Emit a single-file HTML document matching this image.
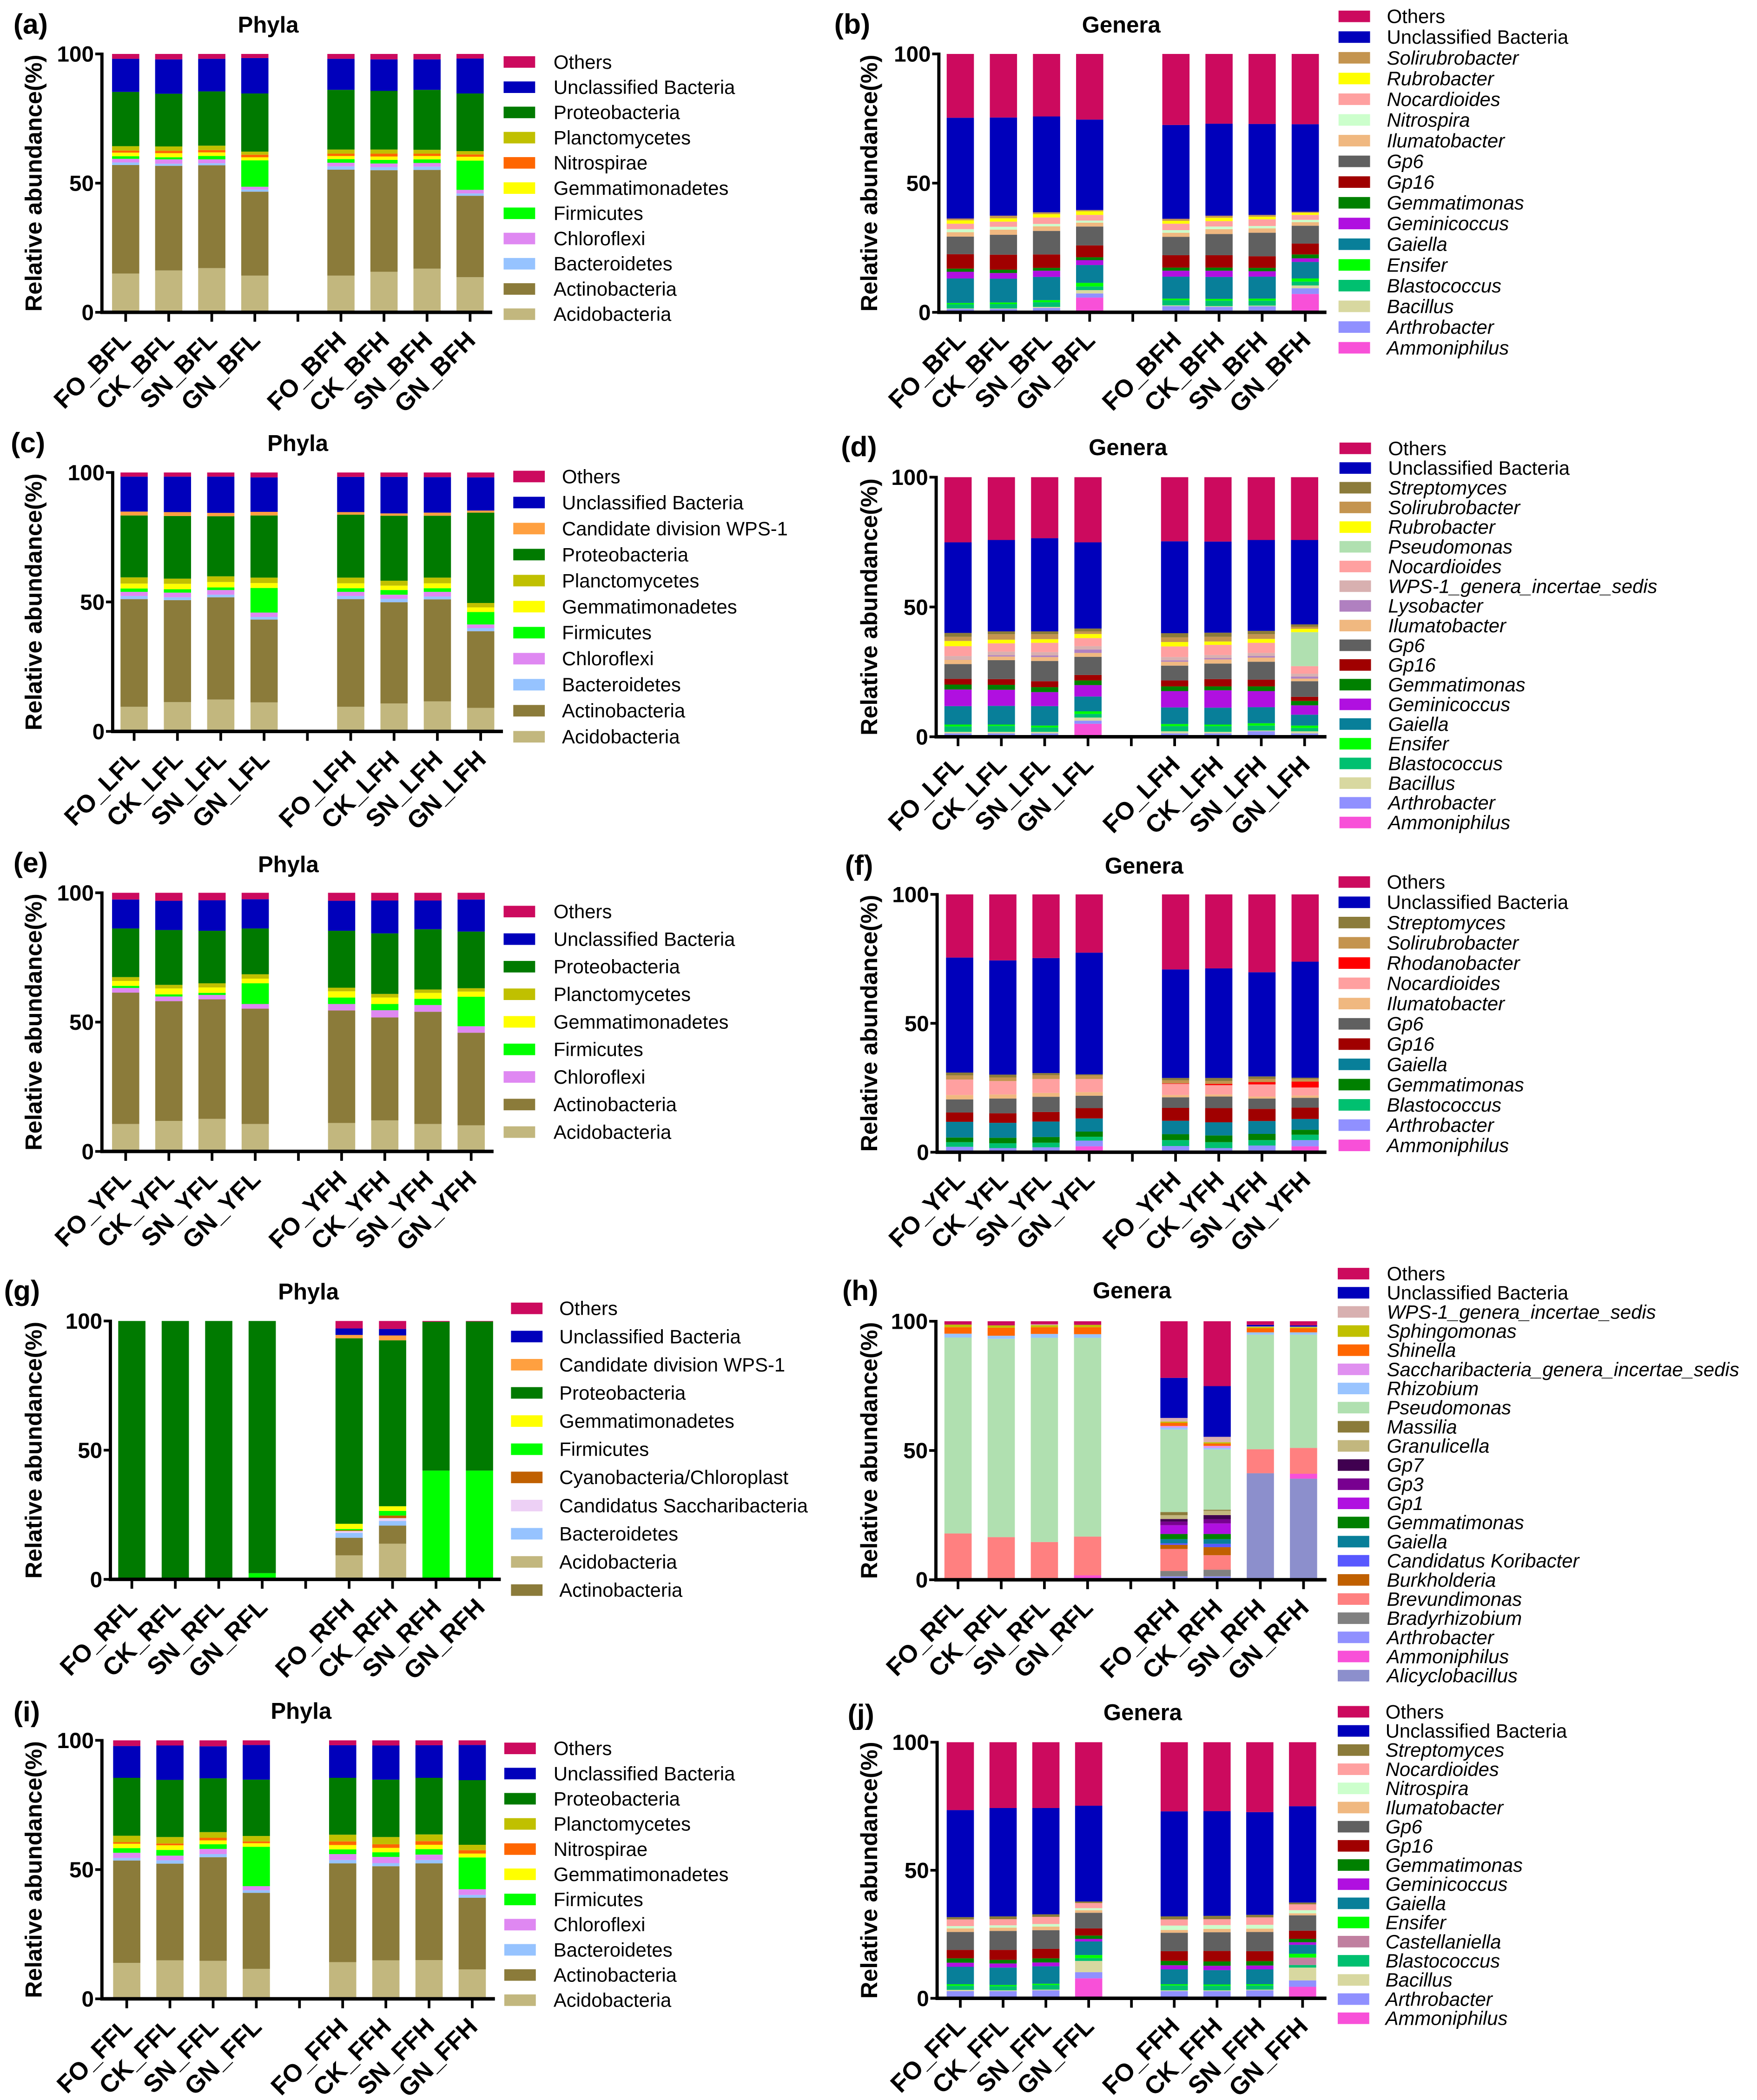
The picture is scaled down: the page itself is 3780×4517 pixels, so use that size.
<!DOCTYPE html>
<html><head><meta charset="utf-8"><style>
html,body{margin:0;padding:0;background:#fff}
svg{display:block}
text{font-family:"Liberation Sans",Arial,sans-serif}
</style></head><body>
<svg id="fig" xmlns="http://www.w3.org/2000/svg" width="3780" height="4517" viewBox="0 0 1310 1565"></svg>
<script>
const colors={"Others":"#cc0a5e","Unclassified Bacteria":"#0000bb","Proteobacteria":"#007a00","Planctomycetes":"#c0c000","Nitrospirae":"#ff6600","Gemmatimonadetes":"#ffff00","Firmicutes":"#00ff00","Chloroflexi":"#df88f2","Bacteroidetes":"#96c3ff","Actinobacteria":"#8b7b3a","Acidobacteria":"#c2b77e","Candidate division WPS-1":"#ffa040","Cyanobacteria/Chloroplast":"#c06000","Candidatus Saccharibacteria":"#edd0f5",
"Streptomyces":"#8b7b3a","Solirubrobacter":"#c4944f","Rubrobacter":"#ffff00","Pseudomonas":"#b0e0b0","Nocardioides":"#ffa0a0","WPS-1_genera_incertae_sedis":"#d8b0b0","Lysobacter":"#b080c0","Ilumatobacter":"#f0b880","Gp6":"#606060","Gp16":"#a00000","Gemmatimonas":"#008000","Geminicoccus":"#b010e0","Gaiella":"#087f99","Ensifer":"#00ff00","Blastococcus":"#00c070","Bacillus":"#d8d8a0","Arthrobacter":"#9090ff","Ammoniphilus":"#f850d8","Nitrospira":"#ccffcc","Rhodanobacter":"#ff0000","Castellaniella":"#c080a0","Sphingomonas":"#c0c000","Shinella":"#ff6600","Saccharibacteria_genera_incertae_sedis":"#e090f0","Rhizobium":"#99c4ff","Massilia":"#8b7b3a","Granulicella":"#c2b77e","Gp7":"#400050","Gp3":"#780090","Gp1":"#b010e0","Candidatus Koribacter":"#5858ff","Burkholderia":"#c06000","Brevundimonas":"#ff8080","Bradyrhizobium":"#808080","Alicyclobacillus":"#8c8fcc"};

const yTicks=[0,50,100];

/* (a) */
const aCats=["Acidobacteria","Actinobacteria","Bacteroidetes","Chloroflexi","Firmicutes","Gemmatimonadetes","Nitrospirae","Planctomycetes","Proteobacteria","Unclassified Bacteria","Others"];
const aSamples=["FO_BFL","CK_BFL","SN_BFL","GN_BFL","FO_BFH","CK_BFH","SN_BFH","GN_BFH"];
const aValues=[
[15,42,1,1.4,1,1.4,0.8,1.7,21,12.8,1.9],
[16.2,40.5,0.8,1.7,0.8,1.6,0.9,1.7,20.4,13.3,2.1],
[17.1,39.8,0.8,1.5,1.3,1.4,0.9,1.7,21,12.6,1.9],
[14.2,32.5,0.8,1.1,10.2,1.2,1,1.2,22.5,13.7,1.6],
[14.2,41,1.3,1.4,1.4,1.2,0.9,1.6,23.1,12,1.9],
[15.7,39.3,1.2,1.4,1.4,1.3,1.1,1.6,22.7,12.2,2.1],
[16.9,38.2,1.3,1.4,1.4,1.3,0.9,1.5,23.2,11.8,2.1],
[13.6,31.5,0.9,1.4,11.3,1.5,0.9,1.3,22.3,13.5,1.8]];

/* (b) */
const bCats=["Ammoniphilus","Arthrobacter","Bacillus","Blastococcus","Ensifer","Gaiella","Geminicoccus","Gemmatimonas","Gp16","Gp6","Ilumatobacter","Nitrospira","Nocardioides","Rubrobacter","Solirubrobacter","Unclassified Bacteria","Others"];
const bSamples=aSamples;
const bValues=[
[0,1.3,0.2,1.6,0.5,9.5,2.6,1.2,5.6,6.8,1.7,1.2,2.1,1.3,0.7,39,24.7],
[0,1.3,0.2,1.7,0.6,9.2,2.2,1.3,5.8,7.7,2,1.1,2,1.3,1,38,24.6],
[0,1.7,0.4,1.8,0.8,9,2.4,1.1,5.2,9.1,1.8,0.9,2.5,1.3,0.7,37.1,24.2],
[5.7,1.6,1.3,1.4,1.4,6.9,1.9,1.1,4.6,7.3,1.5,0.8,2.2,1.4,0.5,35,25.4],
[0,2.4,0.3,2,0.6,8.5,2.3,1.2,4.8,7.1,1.6,1,2.5,1.1,0.8,36.3,27.5],
[0,2.1,0.3,2.1,0.7,8.5,2.4,1.2,4.8,8.2,1.9,1,2.1,1.3,0.8,35.6,27],
[0,2.3,0.3,1.9,0.8,8.5,2.1,1.3,4.5,9.1,1.7,0.9,2.6,1,0.7,35.2,27.1],
[7.1,2.2,1.1,1.5,1.2,6.4,1.4,1.5,4.2,6.9,1.4,0.9,1.9,0.8,0.4,33.9,27.2]];

/* (c) */
const cCats=["Acidobacteria","Actinobacteria","Bacteroidetes","Chloroflexi","Firmicutes","Gemmatimonadetes","Planctomycetes","Proteobacteria","Candidate division WPS-1","Unclassified Bacteria","Others"];
const cSamples=["FO_LFL","CK_LFL","SN_LFL","GN_LFL","FO_LFH","CK_LFH","SN_LFH","GN_LFH"];
const cValues=[
[9.5,41.6,1.2,1.6,1.3,1.9,2.4,23.9,1.5,13.5,1.6],
[11.3,39.4,1.1,1.8,1.3,2.1,2,24.2,1.5,13.7,1.6],
[12.3,39.5,1,1.8,1,2.1,2.2,23.2,1.3,14,1.6],
[11.2,32,1,1.7,9.5,1.9,2.1,24,1.4,13.3,1.9],
[9.5,41.6,1.2,1.6,1.4,1.9,2.2,24.3,1,13.6,1.7],
[10.8,39.1,1.3,1.6,1.8,1.7,1.9,25.1,0.9,14.1,1.7],
[11.6,39.4,1.1,1.8,1.4,1.9,2.2,23.9,1.2,13.7,1.8],
[9.1,29.6,1.2,1.4,4.8,1.8,1.7,34.9,0.8,12.8,1.9]];

/* (d) */
const dCats=["Ammoniphilus","Arthrobacter","Bacillus","Blastococcus","Ensifer","Gaiella","Geminicoccus","Gemmatimonas","Gp16","Gp6","Ilumatobacter","Lysobacter","WPS-1_genera_incertae_sedis","Nocardioides","Pseudomonas","Rubrobacter","Solirubrobacter","Streptomyces","Unclassified Bacteria","Others"];
const dSamples=cSamples;
const dValues=[
[0,1.3,0.6,2.1,0.7,7.1,6.4,1.9,2.2,5.7,1.7,0.1,1.3,3.8,0,2,1.6,1.5,34.9,25.1],
[0,1.3,0.6,2.3,0.5,7.2,6.2,1.9,2.2,7.3,1.4,0.5,1.4,3.2,0,1.4,2.1,1.1,35.2,24.2],
[0,1.3,0.6,1.7,0.7,7.5,5.4,1.9,2.3,7.8,1.5,0.6,1.3,3.6,0,1.4,1.9,1.1,35.9,23.5],
[5,1.2,1.2,1.4,1,5.7,4.4,1.8,2.1,7,1.5,1.3,1.3,3.1,0,1.6,1,1.1,33.2,25.1],
[0,1.3,0.8,2,0.8,6.4,6.3,1.8,2.3,5.7,1.5,0.5,1.3,4.1,0,1.7,1.8,1.6,35.4,24.7],
[0,1.3,0.6,2.2,0.6,6.5,6.7,1.5,2.8,6,1.6,0.5,1.2,3.9,0,1.3,1.8,1.6,35.1,24.8],
[0,2.1,0.3,1.9,0.9,6.2,6.2,1.8,2.6,6.9,1.6,0.6,1.2,3.9,0,1.5,1.8,1.3,35,24.2],
[0,1.3,0.8,1.3,0.9,4.2,3.6,1.7,1.6,6,1,0.8,1.1,2.9,13.1,1.3,0.8,0.9,32.5,24.2]];

/* (e) */
const eCats=["Acidobacteria","Actinobacteria","Chloroflexi","Firmicutes","Gemmatimonadetes","Planctomycetes","Proteobacteria","Unclassified Bacteria","Others"];
const eSamples=["FO_YFL","CK_YFL","SN_YFL","GN_YFL","FO_YFH","CK_YFH","SN_YFH","GN_YFH"];
const eValues=[
[10.6,50.8,1.8,0.8,1.9,1.5,18.8,11.2,2.6],
[11.8,46.3,1.8,0.8,2.3,1.4,21.2,11.3,3.1],
[12.6,46.2,1.7,0.8,2.1,1.6,20.3,11.8,2.9],
[10.6,44.6,1.8,8,1.8,1.7,17.7,11.3,2.5],
[11,43.5,2.5,2.5,2.4,1.4,22,11.6,3.1],
[12,39.8,2.8,2.4,2.5,1.4,23.4,12.7,3],
[10.6,43.4,2.6,2.4,2.3,1.3,23.3,11.1,3],
[10.1,35.8,2.5,11.4,2,1.3,21.9,12.4,2.6]];

/* (f) */
const fCats=["Ammoniphilus","Arthrobacter","Blastococcus","Gemmatimonas","Gaiella","Gp16","Gp6","Ilumatobacter","Nocardioides","Rhodanobacter","Solirubrobacter","Streptomyces","Unclassified Bacteria","Others"];
const fSamples=eSamples;
const fValues=[
[0,2.1,1.8,1.8,6.1,3.6,5.1,1.7,6,0,1.6,1.1,44.6,24.5],
[0,1.6,1.9,2.1,5.8,3.7,5.7,1.6,5.2,0,1.4,1.1,44.3,25.6],
[0,1.9,1.8,2.2,6,3.7,5.9,1.5,5.4,0,1.5,0.8,44.6,24.7],
[2.3,2.2,1.5,2,5.1,4,4.8,1.4,5.1,0,1.4,0.4,47.2,22.6],
[0,2.4,2.3,2.3,5.2,5,4.1,0.9,4.3,0.2,1.2,0.9,42.1,29.1],
[0,1.6,2.3,2.6,5.1,5.5,4.5,0.8,3.6,0.5,1.1,1.2,42.5,28.7],
[0,2.6,2.1,2.4,5,4.7,4,0.8,4.7,0.9,1.2,1,40.4,30.2],
[2.3,2.4,2.1,1.9,4.2,4.4,3.8,0.9,3.1,2.3,1,0.5,45,26.1]];

/* (g) */
const gCats=["Acidobacteria","Actinobacteria","Bacteroidetes","Candidatus Saccharibacteria","Cyanobacteria/Chloroplast","Firmicutes","Gemmatimonadetes","Proteobacteria","Candidate division WPS-1","Unclassified Bacteria","Others"];
const gLegend=["Others","Unclassified Bacteria","Candidate division WPS-1","Proteobacteria","Gemmatimonadetes","Firmicutes","Cyanobacteria/Chloroplast","Candidatus Saccharibacteria","Bacteroidetes","Acidobacteria","Actinobacteria"];
const gSamples=["FO_RFL","CK_RFL","SN_RFL","GN_RFL","FO_RFH","CK_RFH","SN_RFH","GN_RFH"];
const gValues=[
[0,0,0,0,0,0,0,100,0,0,0],
[0,0,0,0,0,0,0,100,0,0,0],
[0,0,0,0,0,0,0,100,0,0,0],
[0,0,0,0,0,2.4,0,97.6,0,0,0],
[9.3,6.8,1.9,0.7,0.3,0.5,2,71.8,1.3,2.5,2.9],
[13.8,7,1.8,1.1,1,1.8,1.8,64.2,1.9,2.5,3.1],
[0,0,0,0,0,42.1,0,57.6,0,0,0.3],
[0,0,0,0,0,42.1,0,57.7,0,0,0.2]];

/* (h) */
const hCats=["Alicyclobacillus","Ammoniphilus","Arthrobacter","Bradyrhizobium","Brevundimonas","Burkholderia","Candidatus Koribacter","Gaiella","Gemmatimonas","Gp1","Gp3","Gp7","Granulicella","Massilia","Pseudomonas","Rhizobium","Saccharibacteria_genera_incertae_sedis","Shinella","Sphingomonas","WPS-1_genera_incertae_sedis","Unclassified Bacteria","Others"];
const hSamples=gSamples;
const hValues=[
[0,0,0,0,17.9,0,0,0,0,0,0,0,0,0,75.8,1.5,0,2.5,1,0,0,1.3],
[0,0,0,0,16.5,0,0,0,0,0,0,0,0,0,76.7,1.2,0,3.1,0.9,0,0,1.6],
[0,0,0,0,14.6,0,0,0,0,0,0,0,0,0,79,1.5,0,2.6,0.8,0.3,0,1.2],
[0.6,1.1,0,0,15,0,0,0,0,0,0,0,0,0,76.9,1.4,0,2.7,0.9,0,0,1.4],
[0,0,1.3,2.1,8.5,1.6,0.6,1.6,2,3.4,1.4,1,1.5,1.2,31.9,0.8,0.6,1.2,0.5,1.4,15.5,21.9],
[0,0,1.3,2.6,5.6,3.1,1.3,1.8,2,4.1,1.6,1.6,1.7,0.4,23.3,0.6,0.8,0.9,0.5,2.1,19.6,25.1],
[41.2,0,0,0,9.3,0,0,0,0,0,0,0,0,0,44.3,0.9,0,1.6,0.5,0.2,0.6,1.4],
[39.1,1.9,0,0,10,0,0,0,0,0,0,0,0,0,43.8,0.9,0,1.6,0.4,0.2,0.5,1.6]];

/* (i) */
const iCats=aCats;
const iSamples=["FO_FFL","CK_FFL","SN_FFL","GN_FFL","FO_FFH","CK_FFH","SN_FFH","GN_FFH"];
const iValues=[
[13.9,39.6,1,2,1.8,1.7,0.6,2.5,22.4,12.3,2.2],
[14.9,37.4,1.3,1.8,2.2,1.8,0.7,2.5,22.1,13.3,2],
[14.7,40.1,1.2,2,1.8,1.5,1,2.2,20.8,12.4,2.3],
[11.6,29.4,1,1.6,15.2,1.4,0.7,2.1,21.8,13.4,1.8],
[14.2,38.2,1.3,2.3,1.8,1.7,1.4,2.6,22,12.6,1.9],
[14.9,36.4,1.2,2.4,1.8,1.7,1.4,2.8,22.2,13.2,2],
[15,37.4,1.3,2.1,2.1,1.7,1.4,2.6,21.9,12.6,1.9],
[11.4,27.7,1.1,2.2,12.3,1.5,1.3,2.1,25,13.6,1.8]];

/* (j) */
const jCats=["Ammoniphilus","Arthrobacter","Bacillus","Blastococcus","Castellaniella","Ensifer","Gaiella","Geminicoccus","Gemmatimonas","Gp16","Gp6","Ilumatobacter","Nitrospira","Nocardioides","Streptomyces","Unclassified Bacteria","Others"];
const jSamples=iSamples;
const jValues=[
[0,2.8,0.5,1.6,0,0.6,6.8,1.6,1.7,3.3,7,1.4,0.9,2.6,0.9,41.8,26.5],
[0,2.8,0.3,1.6,0,0.5,6.8,1.6,1.4,3.9,7.4,1.3,0.9,2.4,1.1,42.3,25.7],
[0,3.1,0.3,1.8,0,0.5,6.8,1.5,1.6,3.7,7.3,1.4,1,2.8,1,41.5,25.7],
[7.8,2.4,4.4,1.1,0,1.2,5.3,1,1.3,2.8,6.1,1,0.8,2,0.6,37.4,24.8],
[0,2.8,0.3,1.9,0,0.5,5.8,1.6,1.7,3.8,7.2,1.1,1.7,2.4,1.2,41,27],
[0,2.8,0.3,1.8,0,0.5,5.6,1.7,1.7,4.1,7.3,1.3,1.5,2.3,1.3,40.9,26.9],
[0,3.1,0.3,1.6,0,0.5,5.8,1.5,1.7,3.9,7.5,1.3,1.5,2.9,1,40.1,27.3],
[4.5,2.5,5,1,2.9,1.5,3.5,1,1.3,3.2,6,0.8,1.2,2.3,0.7,37.6,25]];

const NS="http://www.w3.org/2000/svg";
const svg=document.getElementById('fig');
function mk(tag,attrs,parent){const e=document.createElementNS(NS,tag);for(const k in attrs)e.setAttribute(k,attrs[k]);(parent||svg).appendChild(e);return e;}

const panels=[
{id:"a",label:"(a)",title:"Phyla",cats:aCats,samples:aSamples,values:aValues,ax:76,y100:40,y0:232.6,b0:93.7,st:32.1,ae:367,lx:375.5,ltx:412.7,ly:46,ls:18.8,gen:false,tx:200,ty:18,plx:10,ply:18,ytx:25},
{id:"b",label:"(b)",title:"Genera",cats:bCats,samples:bSamples,values:bValues,ax:700,y100:40,y0:232.6,b0:716,st:32.15,ae:989,lx:998,ltx:1034,ly:12,ls:15.44,gen:true,tx:836,ty:18,plx:622,ply:18,ytx:648},
{id:"c",label:"(c)",title:"Phyla",cats:cCats,samples:cSamples,values:cValues,ax:84,y100:352,y0:545,b0:100,st:32.3,ae:375,lx:382.7,ltx:419,ly:355,ls:19.4,gen:false,tx:222,ty:330,plx:8,ply:330,ytx:25},
{id:"d",label:"(d)",title:"Genera",cats:dCats,samples:dSamples,values:dValues,ax:698,y100:355.5,y0:549,b0:714.3,st:32.3,ae:989,lx:998.7,ltx:1035,ly:334,ls:14.68,gen:true,tx:841,ty:333,plx:627,ply:333,ytx:648},
{id:"e",label:"(e)",title:"Phyla",cats:eCats,samples:eSamples,values:eValues,ax:76,y100:665.3,y0:858.1,b0:93.7,st:32.2,ae:368,lx:375.5,ltx:412.7,ly:679.3,ls:20.55,gen:false,tx:215,ty:644,plx:10,ply:643,ytx:25},
{id:"f",label:"(f)",title:"Genera",cats:fCats,samples:fSamples,values:fValues,ax:698.7,y100:666.5,y0:858.7,b0:715.5,st:32.2,ae:989,lx:998,ltx:1034,ly:657.3,ls:15.1,gen:true,tx:853,ty:645,plx:630,ply:645,ytx:648},
{id:"g",label:"(g)",title:"Phyla",cats:gCats,legend:gLegend,samples:gSamples,values:gValues,ax:82.3,y100:984.5,y0:1177.1,b0:98.3,st:32.4,ae:373.4,lx:381,ltx:417,ly:975.1,ls:21,gen:false,tx:230,ty:962.5,plx:3,ply:962,ytx:25},
{id:"h",label:"(h)",title:"Genera",cats:hCats,samples:hSamples,values:hValues,ax:697.8,y100:984.7,y0:1177.4,b0:714.3,st:32.2,ae:989,lx:997.4,ltx:1034,ly:949.2,ls:14.27,gen:true,tx:844,ty:961.6,plx:628,ply:962,ytx:648},
{id:"i",label:"(i)",title:"Phyla",cats:iCats,samples:iSamples,values:iValues,ax:76,y100:1297.1,y0:1489.8,b0:94.5,st:32.2,ae:369,lx:376,ltx:412.7,ly:1303.1,ls:18.77,gen:false,tx:224.5,ty:1275,plx:10,ply:1276,ytx:25},
{id:"j",label:"(j)",title:"Genera",cats:jCats,samples:jSamples,values:jValues,ax:698.7,y100:1298.5,y0:1489.4,b0:716,st:31.9,ae:989,lx:997.4,ltx:1033,ly:1275.8,ls:14.28,gen:true,tx:852,ty:1276,plx:632,ply:1278,ytx:648}
];

panels.forEach(p=>{
  const g=mk('g',{});
  
  
  const yS=v=>p.y0-v/100*(p.y0-p.y100);
  const xS=i=>p.b0+(i<4?i:i+1)*p.st;
  const bw=20.3;
  // panel label and title
  const pl=mk('text',{x:p.plx,y:p.ply+7,'font-size':21,'font-weight':'bold'},g);
  pl.textContent=p.label;
  
  
  const ti=mk('text',{x:p.tx,y:p.ty+6,'font-size':17,'font-weight':'bold','text-anchor':'middle'},g);
  ti.textContent=p.title;
  
  
  // y title
  const ym=(p.y0+p.y100)/2;
  const yt=mk('text',{x:0,y:0,'font-size':17.5,'font-weight':'bold','text-anchor':'middle',transform:`translate(${p.ytx+6},${ym}) rotate(-90)`},g);
  yt.textContent='Relative abundance(%)';
  
  
  // bars
  p.values.forEach((row,i)=>{
    let acc=0;
    row.forEach((v,k)=>{
      if(v<=0){return;}
      const top=yS(acc+v),bot=yS(acc);
      const r=mk('rect',{x:xS(i)-bw/2,y:top,width:bw,height:bot-top,fill:colors[p.cats[k]]},g);
      
      
      acc+=v;
    });
    const lab=mk('text',{x:0,y:0,'font-size':18.5,'font-weight':'bold','text-anchor':'end',transform:`translate(${xS(i)+5},${p.y0+22}) rotate(-45)`},g);
    lab.textContent=p.samples[i];
    
    
  });
  // axes
  const ya=mk('line',{x1:p.ax,y1:p.y100-1,x2:p.ax,y2:p.y0+1.2,stroke:'#000','stroke-width':2.4},g);
  
  
  const xa=mk('line',{x1:p.ax-1.2,y1:p.y0,x2:p.ae,y2:p.y0,stroke:'#000','stroke-width':2.6},g);
  
  
  for(let i=0;i<9;i++){
    const tx=p.b0+i*p.st;
    const t=mk('line',{x1:tx,y1:p.y0,x2:tx,y2:p.y0+7,stroke:'#000','stroke-width':2},g);
    
    
  }
  yTicks.forEach(v=>{
    const t=mk('line',{x1:p.ax-5,y1:yS(v),x2:p.ax,y2:yS(v),stroke:'#000','stroke-width':2},g);
    
    
    const tl=mk('text',{x:p.ax-6,y:yS(v)+5.8,'font-size':16.5,'font-weight':'bold','text-anchor':'end'},g);
    tl.textContent=String(v);
    
    
  });
  // legend
  const leg=p.legend||p.cats.slice().reverse();
  leg.forEach((c,k)=>{
    const cy=p.ly+k*p.ls;
    const sw=mk('rect',{x:p.lx,y:cy-4.3,width:23.5,height:8.6,fill:colors[c]},g);
    
    
    const it=p.gen&&c!=="Others"&&c!=="Unclassified Bacteria";
    const lt=mk('text',{x:p.ltx,y:cy+5,'font-size':14.5,'font-style':it?'italic':'normal'},g);
    lt.textContent=c;
    
    
  });
});
</script>
</body></html>
